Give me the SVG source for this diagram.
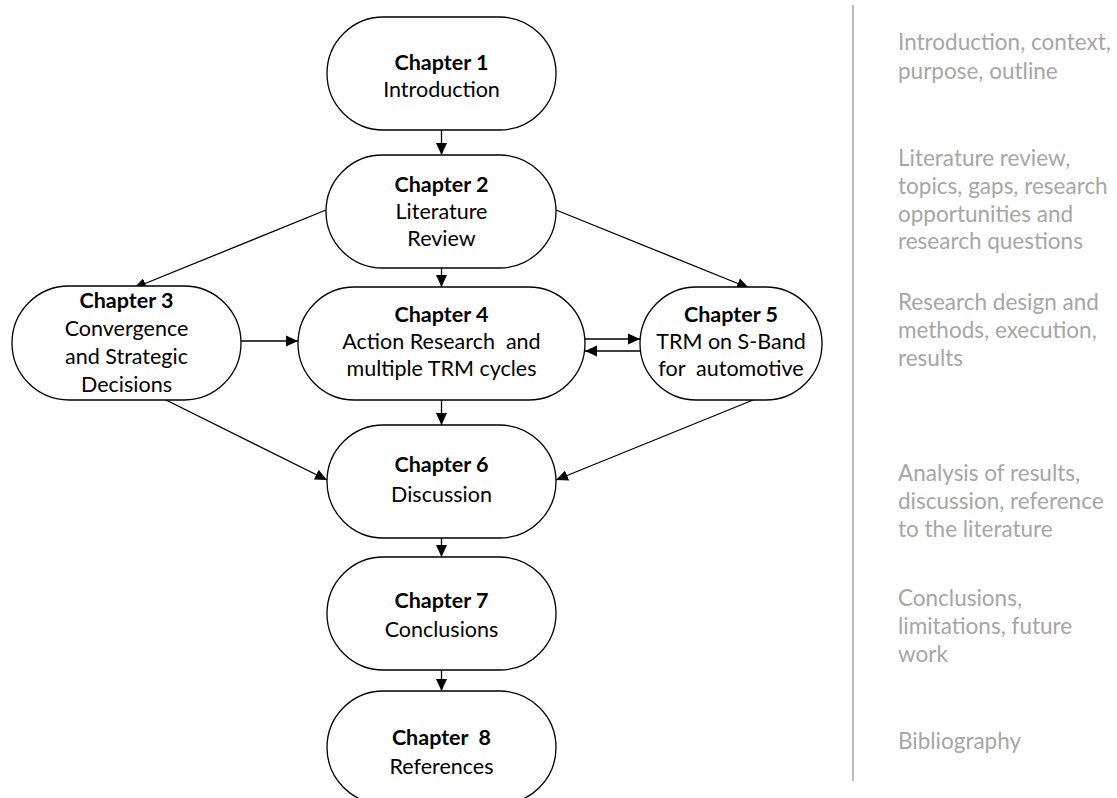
<svg xmlns="http://www.w3.org/2000/svg" width="1117" height="798" viewBox="0 0 1117 798">
<style>
.n{fill:#fff;stroke:#000;stroke-width:1.3}
.t{font-family:Lato,"Open Sans",sans-serif;font-size:21.5px;fill:#000;text-anchor:middle;white-space:pre}
.b{font-weight:bold}
.c{stroke:#000;stroke-width:1.3;fill:none;marker-end:url(#ah)}
.r{font-family:Lato,"Open Sans",sans-serif;font-size:22.5px;fill:#a6a6a6}
</style>
<defs>
<marker id="ah" markerWidth="13" markerHeight="13" refX="12" refY="6.5" orient="auto" markerUnits="userSpaceOnUse">
<path d="M0,1 L12,6.5 L0,12 Z" fill="#000"/>
</marker>
</defs>
<rect width="1117" height="798" fill="#fff"/>
<g id="connectors">
<line class="c" x1="441.5" y1="130" x2="441.5" y2="155"/>
<line class="c" x1="441.5" y1="268" x2="441.5" y2="287"/>
<line class="c" x1="326" y1="210" x2="134" y2="288"/>
<line class="c" x1="556" y1="210" x2="749" y2="288"/>
<line class="c" x1="241" y1="341" x2="298" y2="341"/>
<line class="c" x1="585" y1="339" x2="640" y2="339"/>
<line class="c" x1="640" y1="351" x2="585" y2="351"/>
<line class="c" x1="441.5" y1="400" x2="441.5" y2="425"/>
<line class="c" x1="162" y1="398" x2="327" y2="480"/>
<line class="c" x1="758" y1="398" x2="556" y2="480"/>
<line class="c" x1="441.5" y1="538" x2="441.5" y2="557"/>
<line class="c" x1="441.5" y1="670" x2="441.5" y2="691"/>
</g>
<g id="ch1"><rect class="n" x="327" y="17" width="229" height="113" rx="56.5"/>
<text class="t b" x="441.5" y="70">Chapter 1</text><text class="t" x="441.5" y="97">Introduction</text></g>
<g id="ch2"><rect class="n" x="326" y="155" width="230" height="113" rx="56.5"/>
<text class="t b" x="441.5" y="192">Chapter 2</text><text class="t" x="441.5" y="219">Literature</text><text class="t" x="441.5" y="246">Review</text></g>
<g id="ch3"><rect class="n" x="12" y="286" width="229" height="114" rx="57"/>
<text class="t b" x="126.5" y="308">Chapter 3</text><text class="t" x="126.5" y="336">Convergence</text><text class="t" x="126.5" y="364">and Strategic</text><text class="t" x="126.5" y="392">Decisions</text></g>
<g id="ch4"><rect class="n" x="298" y="287" width="287" height="113" rx="56.5"/>
<text class="t b" x="441.5" y="322">Chapter 4</text><text class="t" x="441.5" y="349" xml:space="preserve">Action Research  and</text><text class="t" x="441.5" y="376">multiple TRM cycles</text></g>
<g id="ch5"><rect class="n" x="640" y="287" width="182" height="113" rx="56.5"/>
<text class="t b" x="731" y="322">Chapter 5</text><text class="t" x="731" y="349">TRM on S-Band</text><text class="t" x="731" y="376" xml:space="preserve">for  automotive</text></g>
<g id="ch6"><rect class="n" x="327" y="425" width="229" height="113" rx="56.5"/>
<text class="t b" x="441.5" y="472">Chapter 6</text><text class="t" x="441.5" y="502">Discussion</text></g>
<g id="ch7"><rect class="n" x="327" y="557" width="229" height="113" rx="56.5"/>
<text class="t b" x="441.5" y="608">Chapter 7</text><text class="t" x="441.5" y="637">Conclusions</text></g>
<g id="ch8"><rect class="n" x="327" y="691" width="229" height="113" rx="56.5"/>
<text class="t b" x="441.5" y="745" xml:space="preserve">Chapter  8</text><text class="t" x="441.5" y="774">References</text></g>
<g id="sidebar">
<line x1="853" y1="5" x2="853" y2="781" stroke="#a6a6a6" stroke-width="1.5"/>
<text class="r" x="898" y="50">Introduction, context,</text>
<text class="r" x="898" y="79">purpose, outline</text>
<text class="r" x="898" y="166">Literature review,</text>
<text class="r" x="898" y="194">topics, gaps, research</text>
<text class="r" x="898" y="222">opportunities and</text>
<text class="r" x="898" y="249">research questions</text>
<text class="r" x="898" y="310">Research design and</text>
<text class="r" x="898" y="338">methods, execution,</text>
<text class="r" x="898" y="366">results</text>
<text class="r" x="898" y="481">Analysis of results,</text>
<text class="r" x="898" y="509">discussion, reference</text>
<text class="r" x="898" y="537">to the literature</text>
<text class="r" x="898" y="606">Conclusions,</text>
<text class="r" x="898" y="634">limitations, future</text>
<text class="r" x="898" y="662">work</text>
<text class="r" x="898" y="749">Bibliography</text>
</g>
</svg>
